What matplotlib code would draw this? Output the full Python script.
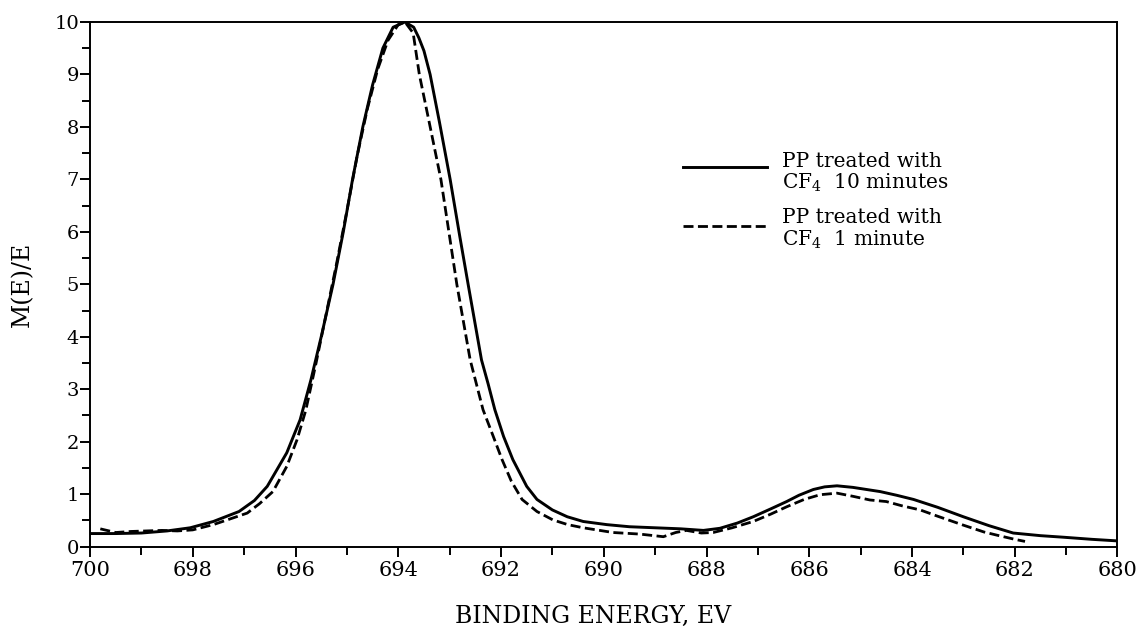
import numpy as np
import matplotlib.pyplot as plt

plt.rcParams['font.family'] = ['DejaVu Serif']
plt.rcParams['mathtext.fontset'] = 'dejavuserif'

# PP treated with CF4 for 10 minutes
energy_10min = [700.0, 699.5, 699.0, 698.5, 698.05, 697.6, 697.1, 696.8, 696.55, 696.17,
                695.91, 695.7, 695.5, 695.27, 695.07, 694.89, 694.69, 694.5, 694.3, 694.1,
                693.87, 693.7, 693.6, 693.5, 693.38, 693.2, 692.99, 692.8, 692.64, 692.38,
                692.25, 692.12, 691.95, 691.77, 691.5, 691.3, 691.0, 690.71, 690.4, 689.94,
                689.5, 689.0, 688.5, 688.06, 687.74, 687.4, 687.09, 686.75, 686.44, 686.2,
                685.92, 685.7, 685.46, 685.15, 684.82, 684.62, 684.3, 683.97, 683.5, 683.0,
                682.5, 682.03, 681.5, 681.05, 680.5, 680.0]
signal_10min = [0.25, 0.25, 0.26, 0.30, 0.36, 0.48, 0.67, 0.88, 1.15, 1.79,
                2.42, 3.18, 4.0, 5.0, 6.0, 7.0, 8.0, 8.8, 9.5, 9.9,
                10.0, 9.9, 9.7, 9.45, 9.0, 8.1, 7.0, 5.9, 5.0, 3.56,
                3.1, 2.61, 2.1, 1.66, 1.15, 0.90, 0.70, 0.57, 0.48, 0.42,
                0.38, 0.36, 0.34, 0.31, 0.35, 0.45, 0.57, 0.72, 0.86, 0.98,
                1.09, 1.14, 1.16, 1.13, 1.08, 1.05, 0.98, 0.90, 0.75, 0.57,
                0.40, 0.26, 0.21, 0.18, 0.14, 0.11]

# PP treated with CF4 for 1 minute
energy_1min = [699.8, 699.5, 699.2, 698.9, 698.6, 698.3, 698.0, 697.6, 697.3, 696.94,
               696.7, 696.44, 696.17, 695.97, 695.8, 695.6, 695.4, 695.2, 695.0, 694.8,
               694.6, 694.4, 694.2, 694.0, 693.87, 693.71, 693.59, 693.4, 693.17, 692.86,
               692.6, 692.5, 692.35, 692.15, 691.98, 691.8, 691.59, 691.3, 690.99, 690.7,
               690.4, 689.82, 689.3, 688.84, 688.6, 688.39, 688.1, 687.87, 687.5, 687.09,
               686.75, 686.44, 686.1, 685.79, 685.46, 685.15, 684.82, 684.5, 684.2, 683.84,
               683.5, 683.0, 682.6, 682.35, 682.0, 681.8]
signal_1min = [0.34, 0.27, 0.29, 0.30, 0.31, 0.30, 0.32, 0.42, 0.52, 0.64,
               0.82, 1.05, 1.53, 2.04, 2.6, 3.5, 4.45, 5.4, 6.4, 7.45,
               8.35, 9.1, 9.65, 9.95, 10.0, 9.79, 9.0, 8.1, 7.0, 5.0,
               3.56, 3.18, 2.61, 2.1, 1.66, 1.25, 0.90, 0.67, 0.51, 0.42,
               0.36, 0.27, 0.24, 0.19, 0.27, 0.31, 0.26, 0.27, 0.36, 0.48,
               0.62, 0.76, 0.90, 0.99, 1.02, 0.96, 0.89, 0.86, 0.78, 0.70,
               0.58, 0.41, 0.28, 0.22, 0.14, 0.10]

key_10min = ["PP treated with", "CF$_4$  10 minutes"]
key_1min = ["PP treated with", "CF$_4$  1 minute"]

fig = plt.figure(figsize=(11.41, 6.37), dpi=100)
ax = fig.add_axes([0.0789, 0.1418, 0.9005, 0.8237])

ax.plot(energy_10min, signal_10min, color='black', lw=2.1, solid_joinstyle='round')
ax.plot(energy_1min, signal_1min, color='black', lw=2.0, dashes=(3.6, 1.6))

ax.set_xlim(700, 680)
ax.set_ylim(0, 10)
ax.set_xticks(np.arange(700, 679, -2))
ax.set_xticks(np.arange(699, 680, -2), minor=True)
ax.set_yticks(np.arange(0, 11, 1))
ax.set_yticks(np.arange(0.5, 10, 1), minor=True)

for s in ax.spines.values():
    s.set_linewidth(1.4)
ax.tick_params(which='major', length=7, width=1.4, direction='out')
ax.tick_params(which='minor', length=5.5, width=1.4, direction='out')
ax.tick_params(axis='x', labelsize=15, pad=3)
ax.tick_params(axis='y', labelsize=14, pad=1)

ax.set_xlabel("BINDING ENERGY, EV", fontsize=17)
ax.xaxis.set_label_coords(0.49, -0.112)
ax.set_ylabel("M(E)/E", fontsize=17)
ax.yaxis.set_label_coords(-0.054, 0.5)

# key drawn beside the curves
ax.plot([0.577, 0.659], [0.7242, 0.7242], transform=ax.transAxes, color='black', lw=2.1)
ax.plot([0.577, 0.659], [0.611, 0.611], transform=ax.transAxes, color='black',
        lw=2.0, dashes=(3.6, 1.6))
for (line1, line2), y1, y2 in [(key_10min, 0.7242, 0.6831), (key_1min, 0.6163, 0.5731)]:
    ax.text(0.6735, y1, line1, transform=ax.transAxes, fontsize=14.5, va='baseline')
    ax.text(0.6735, y2, line2, transform=ax.transAxes, fontsize=14.5, va='baseline')

fig.savefig("out.png", dpi=100)
